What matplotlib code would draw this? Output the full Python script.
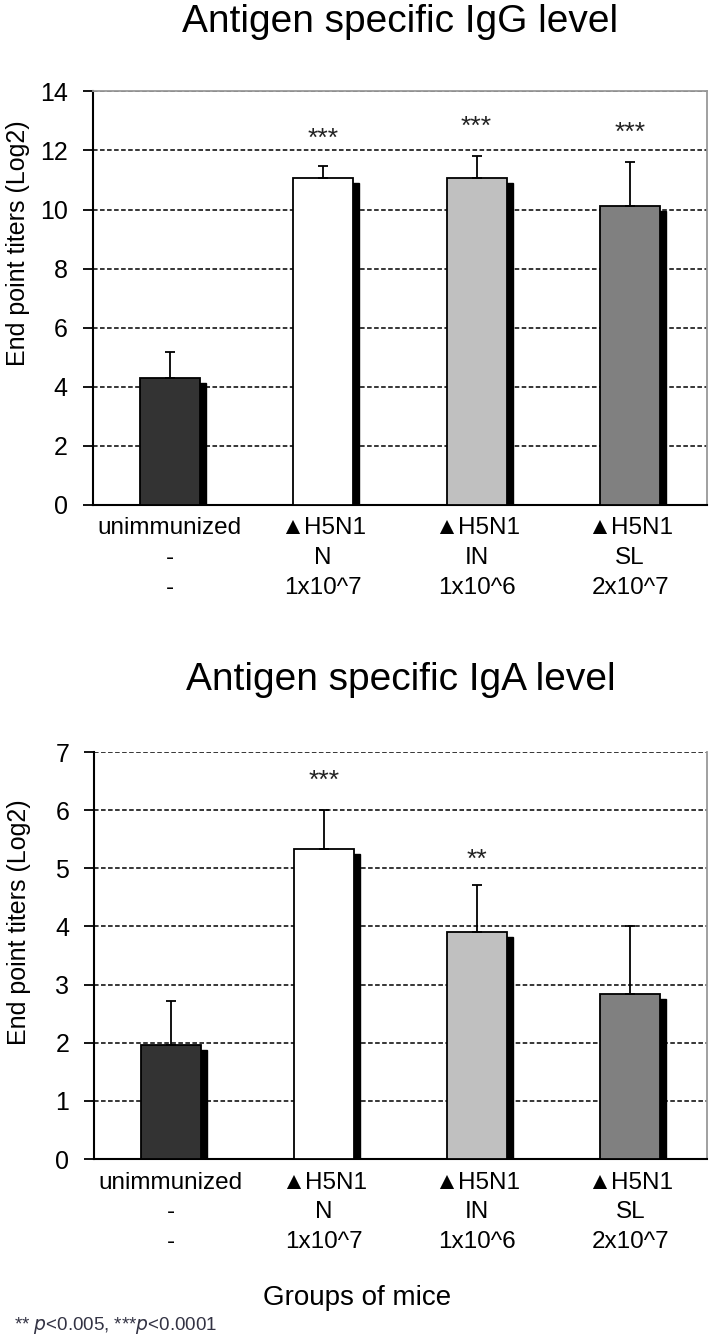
import matplotlib
matplotlib.use("Agg")
import matplotlib.pyplot as plt
import matplotlib.transforms as mtrans
import numpy as np

plt.rcParams['font.family'] = ['Liberation Sans', 'DejaVu Sans']

############   DATA   #############
groups = ["unimmunized\n-\n-", "\u25b2H5N1\nN\n1x10^7",
          "\u25b2H5N1\nIN\n1x10^6", "\u25b2H5N1\nSL\n2x10^7"]
bar_colors = ["#333333", "#ffffff", "#c0c0c0", "#808080"]

igg_mean = [4.3, 11.05, 11.08, 10.13]
igg_err = [0.89, 0.41, 0.72, 1.47]
igg_stars = ["", "***", "***", "***"]
igg_star_y = [0, 12.4, 12.8, 12.6]

iga_mean = [1.96, 5.34, 3.90, 2.83]
iga_err = [0.76, 0.67, 0.81, 1.17]
iga_stars = ["", "***", "**", ""]
iga_star_y = [0, 6.5, 5.15, 0]


def draw_panel(ax, means, errs, stars, star_y, ymax, title, top_dashed, ylab_y, title_y):
    x = np.arange(len(groups))
    w = 0.39
    # black drop shadow behind each bar
    shadow = ax.transData + mtrans.ScaledTranslation(0.06, -0.05, ax.figure.dpi_scale_trans)
    ax.bar(x, means, width=w, color="black", edgecolor="black", transform=shadow, zorder=2)
    ax.bar(x, means, width=w, color=bar_colors, edgecolor="black", linewidth=1.3, zorder=3)
    ax.errorbar(x, means, yerr=[np.zeros(len(errs)), errs], fmt="none", ecolor="black",
                elinewidth=1.3, capsize=3.5, capthick=1.3, zorder=4)
    for xi, s, sy in zip(x, stars, star_y):
        if s:
            ax.text(xi, sy, s, ha="center", va="center", fontsize=19, color="#222222")

    ax.set_xlim(-0.5, len(groups) - 0.5)
    ax.set_ylim(0, ymax)
    step = 2 if ymax > 10 else 1
    ax.set_yticks(np.arange(0, ymax + 0.1, step))
    ax.yaxis.grid(True, linestyle=(0, (3, 1.6)), color="black", linewidth=1.1, zorder=0)
    ax.set_axisbelow(True)
    ax.set_xticks(x)
    ax.set_xticklabels(groups, fontsize=17.5, linespacing=1.45)
    ax.tick_params(axis="x", length=0, pad=9)
    ax.tick_params(axis="y", length=7, width=1.3, labelsize=18, pad=11, direction="out")
    ax.spines["left"].set_linewidth(1.5)
    ax.spines["bottom"].set_linewidth(1.5)
    ax.spines["right"].set_color("#999999")
    ax.spines["right"].set_linewidth(1.3)
    if top_dashed:
        ax.spines["top"].set_visible(False)
    else:
        ax.spines["top"].set_color("#999999")
        ax.spines["top"].set_linewidth(1.3)
    ax.set_ylabel("End point titers (Log2)", fontsize=18)
    ax.yaxis.set_label_coords(-0.103, ylab_y)
    ax.text(0.5, title_y, title, transform=ax.transAxes, ha="center", va="center", fontsize=28)


fig = plt.figure(figsize=(7.14, 13.43), dpi=100)
ax1 = fig.add_axes([0.130, 0.624, 0.860, 0.308])
ax2 = fig.add_axes([0.132, 0.137, 0.858, 0.303])

draw_panel(ax1, igg_mean, igg_err, igg_stars, igg_star_y, 14, "Antigen specific IgG level",
           False, 0.634, 1.167)
draw_panel(ax2, iga_mean, iga_err, iga_stars, iga_star_y, 7, "Antigen specific IgA level",
           True, 0.583, 1.176)

fig.text(0.5, 1 - 1298 / 1343, "Groups of mice", ha="center", va="center", fontsize=20)
fig.text(0.02, 1 - 1326 / 1343, "** $p$<0.005, ***$p$<0.0001", ha="left", va="center",
         fontsize=13.5, color="#333344")

fig.savefig("out.png", dpi=100)
